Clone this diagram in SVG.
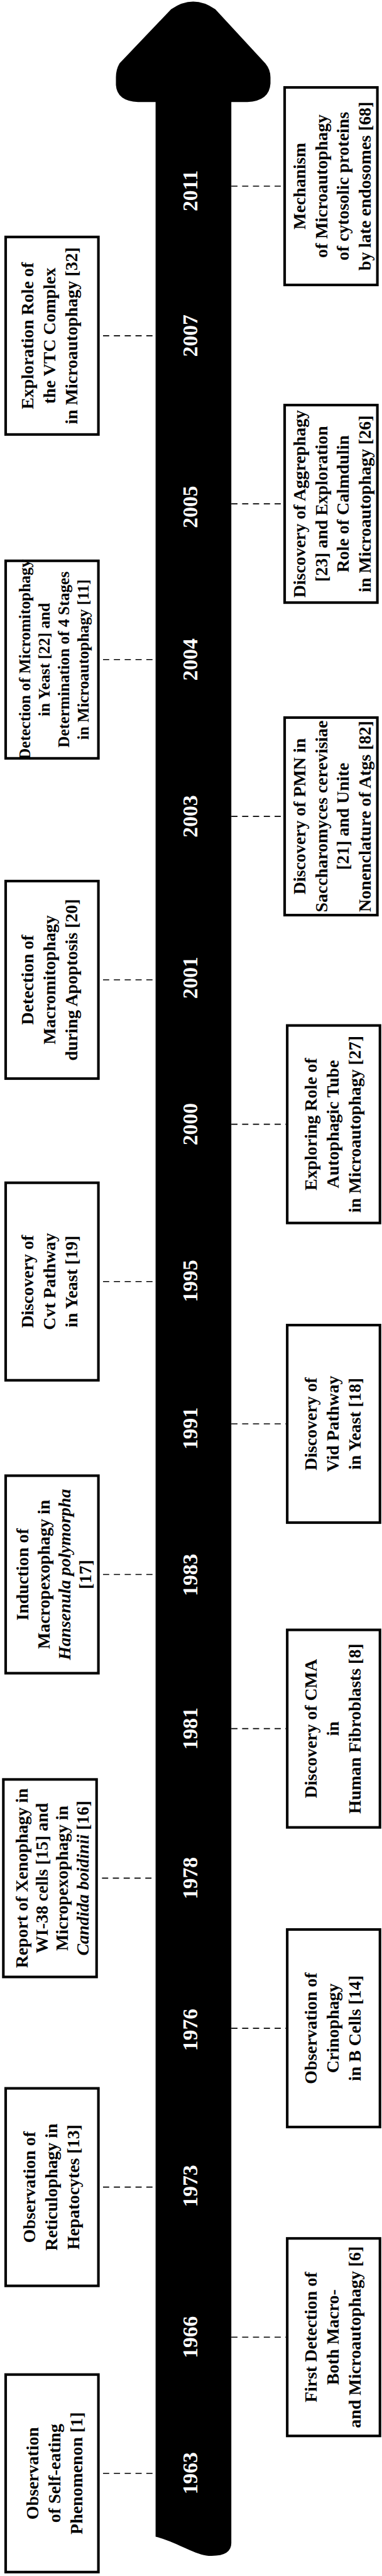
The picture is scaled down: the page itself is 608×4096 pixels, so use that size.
<svg xmlns="http://www.w3.org/2000/svg" width="608" height="4096" viewBox="0 0 608 4096">
<style>
.box{fill:#fff;stroke:#000;stroke-width:5}
.lbl{font-family:"Liberation Serif","Times New Roman",serif;font-weight:bold;font-size:34px;fill:#000;text-anchor:middle;dominant-baseline:central}
.sm{font-size:31px}
.yr{font-family:"Liberation Serif","Times New Roman",serif;font-weight:bold;font-size:41px;fill:#fff;text-anchor:middle;dominant-baseline:central}
.conn{stroke:#000;stroke-width:2;stroke-dasharray:12 9;fill:none}
</style>
<rect width="608" height="4096" fill="#fff"/>
<g transform="scale(0.82)">
<g id="timeline">
<path d="M302,198 L268,198 Q227,196 225,165 L225,150 Q225,135 232,123 L332,18 Q375,-12 418,18 L515,123 Q525,135 525,150 L525,162 Q523,196 480,198 L449,198 L449,4930 Q450,4958 405,4956 C380,4955 340,4928 302,4919 Z" fill="#000"/>
<text class="yr" transform="translate(369,370) rotate(-90)">2011</text>
<text class="yr" transform="translate(369,651) rotate(-90)">2007</text>
<text class="yr" transform="translate(369,983) rotate(-90)">2005</text>
<text class="yr" transform="translate(369,1279) rotate(-90)">2004</text>
<text class="yr" transform="translate(369,1583) rotate(-90)">2003</text>
<text class="yr" transform="translate(369,1896) rotate(-90)">2001</text>
<text class="yr" transform="translate(369,2180) rotate(-90)">2000</text>
<text class="yr" transform="translate(369,2484) rotate(-90)">1995</text>
<text class="yr" transform="translate(369,2770) rotate(-90)">1991</text>
<text class="yr" transform="translate(369,3054) rotate(-90)">1983</text>
<text class="yr" transform="translate(369,3352) rotate(-90)">1981</text>
<text class="yr" transform="translate(369,3642) rotate(-90)">1978</text>
<text class="yr" transform="translate(369,3936) rotate(-90)">1976</text>
<text class="yr" transform="translate(369,4239) rotate(-90)">1973</text>
<text class="yr" transform="translate(369,4532) rotate(-90)">1966</text>
<text class="yr" transform="translate(369,4796) rotate(-90)">1963</text>
</g>
<g id="connectors">
<line class="conn" x1="449" y1="361" x2="550" y2="361"/>
<line class="conn" x1="200" y1="651" x2="302" y2="651"/>
<line class="conn" x1="449" y1="977" x2="550" y2="977"/>
<line class="conn" x1="200" y1="1279" x2="302" y2="1279"/>
<line class="conn" x1="449" y1="1583" x2="550" y2="1583"/>
<line class="conn" x1="200" y1="1900" x2="302" y2="1900"/>
<line class="conn" x1="449" y1="2180" x2="555" y2="2180"/>
<line class="conn" x1="200" y1="2485" x2="302" y2="2485"/>
<line class="conn" x1="449" y1="2761" x2="555" y2="2761"/>
<line class="conn" x1="200" y1="3053" x2="302" y2="3053"/>
<line class="conn" x1="449" y1="3352" x2="555" y2="3352"/>
<line class="conn" x1="198" y1="3642" x2="302" y2="3642"/>
<line class="conn" x1="449" y1="3933" x2="555" y2="3933"/>
<line class="conn" x1="200" y1="4241" x2="302" y2="4241"/>
<line class="conn" x1="449" y1="4532" x2="555" y2="4532"/>
<line class="conn" x1="200" y1="4796" x2="302" y2="4796"/>
</g>
<g id="n2011">
<rect class="box" x="552.5" y="169.5" width="180" height="383"/>
<text class="lbl" transform="translate(644,361) rotate(-90)"><tspan x="0" y="-63">Mechanism</tspan><tspan x="0" y="-21">of Microautophagy</tspan><tspan x="0" y="21">of cytosolic proteins</tspan><tspan x="0" y="63">by late endosomes [68]</tspan></text>
</g>
<g id="n2007">
<rect class="box" x="11" y="459.5" width="180" height="383"/>
<text class="lbl" transform="translate(95,651) rotate(-90)"><tspan x="0" y="-43">Exploration Role of</tspan><tspan x="0" y="0">the VTC Complex</tspan><tspan x="0" y="43">in Microautophagy [32]</tspan></text>
</g>
<g id="n2005">
<rect class="box" x="552.5" y="785.5" width="180" height="383"/>
<text class="lbl" transform="translate(644,977) rotate(-90)"><tspan x="0" y="-63">Discovery of Aggrephagy</tspan><tspan x="0" y="-21">[23] and Exploration</tspan><tspan x="0" y="21">Role of Calmdulin</tspan><tspan x="0" y="63">in Microautophagy [26]</tspan></text>
</g>
<g id="n2004">
<rect class="box" x="11" y="1087.5" width="180" height="383"/>
<text class="lbl sm" transform="translate(104,1279) rotate(-90)"><tspan x="0" y="-57">Detection of Micromitophagy</tspan><tspan x="0" y="-19">in Yeast [22] and</tspan><tspan x="0" y="19">Determination of 4 Stages</tspan><tspan x="0" y="57">in Microautophagy [11]</tspan></text>
</g>
<g id="n2003">
<rect class="box" x="552.5" y="1391.5" width="180" height="383"/>
<text class="lbl" transform="translate(644,1583) rotate(-90)"><tspan x="0" y="-63">Discovery of PMN in</tspan><tspan x="0" y="-21">Saccharomyces cerevisiae</tspan><tspan x="0" y="21">[21] and Unite</tspan><tspan x="0" y="63">Nonenclature of Atgs [82]</tspan></text>
</g>
<g id="n2001">
<rect class="box" x="11" y="1708.5" width="180" height="383"/>
<text class="lbl" transform="translate(95,1900) rotate(-90)"><tspan x="0" y="-43">Detection of</tspan><tspan x="0" y="0">Macromitophagy</tspan><tspan x="0" y="43">during Apoptosis [20]</tspan></text>
</g>
<g id="n2000">
<rect class="box" x="557.5" y="1988.5" width="180" height="383"/>
<text class="lbl" transform="translate(645,2180) rotate(-90)"><tspan x="0" y="-43">Exploring Role of</tspan><tspan x="0" y="0">Autophagic Tube</tspan><tspan x="0" y="43">in Microautophagy [27]</tspan></text>
</g>
<g id="n1995">
<rect class="box" x="11" y="2293.5" width="180" height="383"/>
<text class="lbl" transform="translate(95,2485) rotate(-90)"><tspan x="0" y="-43">Discovery of</tspan><tspan x="0" y="0">Cvt Pathway</tspan><tspan x="0" y="43">in Yeast [19]</tspan></text>
</g>
<g id="n1991">
<rect class="box" x="557.5" y="2569.5" width="180" height="383"/>
<text class="lbl" transform="translate(645,2761) rotate(-90)"><tspan x="0" y="-43">Discovery of</tspan><tspan x="0" y="0">Vid Pathway</tspan><tspan x="0" y="43">in Yeast [18]</tspan></text>
</g>
<g id="n1983">
<rect class="box" x="11" y="2861.5" width="180" height="383"/>
<text class="lbl" transform="translate(104,3053) rotate(-90)"><tspan x="0" y="-61">Induction of</tspan><tspan x="0" y="-20">Macropexophagy in</tspan><tspan x="0" y="20" font-style="italic">Hansenula polymorpha</tspan><tspan x="0" y="61">[17]</tspan></text>
</g>
<g id="n1981">
<rect class="box" x="557.5" y="3160.5" width="180" height="383"/>
<text class="lbl" transform="translate(645,3352) rotate(-90)"><tspan x="0" y="-43">Discovery of CMA</tspan><tspan x="0" y="0">in</tspan><tspan x="0" y="43">Human Fibroblasts [8]</tspan></text>
</g>
<g id="n1978">
<rect class="box" x="6.5" y="3450.5" width="181" height="383"/>
<text class="lbl" transform="translate(101,3642) rotate(-90)"><tspan x="0" y="-59">Report of Xenophagy in</tspan><tspan x="0" y="-20">WI-38 cells [15] and</tspan><tspan x="0" y="19">Micropexophagy in</tspan><tspan x="0" y="59"><tspan font-style="italic">Candida boidinii</tspan> [16]</tspan></text>
</g>
<g id="n1976">
<rect class="box" x="557.5" y="3741.5" width="180" height="383"/>
<text class="lbl" transform="translate(645,3933) rotate(-90)"><tspan x="0" y="-43">Observation of</tspan><tspan x="0" y="0">Crinophagy</tspan><tspan x="0" y="43">in B Cells [14]</tspan></text>
</g>
<g id="n1973">
<rect class="box" x="11" y="4049.5" width="180" height="383"/>
<text class="lbl" transform="translate(99,4241) rotate(-90)"><tspan x="0" y="-43">Observation of</tspan><tspan x="0" y="0">Reticulophagy in</tspan><tspan x="0" y="43">Hepatocytes [13]</tspan></text>
</g>
<g id="n1966">
<rect class="box" x="557.5" y="4340.5" width="180" height="383"/>
<text class="lbl" transform="translate(645,4532) rotate(-90)"><tspan x="0" y="-43">First Detection of</tspan><tspan x="0" y="0">Both Macro-</tspan><tspan x="0" y="43">and Microautophagy [6]</tspan></text>
</g>
<g id="n1963">
<rect class="box" x="11" y="4604.5" width="180" height="383"/>
<text class="lbl" transform="translate(105,4796) rotate(-90)"><tspan x="0" y="-43">Observation</tspan><tspan x="0" y="0">of Self-eating</tspan><tspan x="0" y="43">Phenomenon [1]</tspan></text>
</g>
</g>
</svg>
